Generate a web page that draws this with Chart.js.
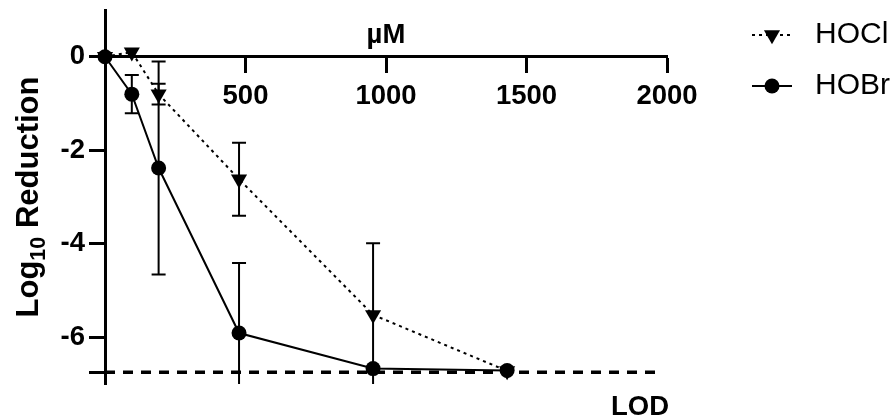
<!DOCTYPE html>
<html><head><meta charset="utf-8">
<script src="https://cdn.jsdelivr.net/npm/chart.js@4"></script>
<style>html,body{margin:0;padding:0;background:#fff;}canvas{display:block}</style>
</head><body>
<canvas id="c" width="896" height="419"></canvas>
<script>
// ---- data ----
const concentrations = [0, 95.4, 190.8, 477, 954, 1431];
const hoclMean = [0, 0.1, -0.8, -2.62, -5.52, -6.72];
const hoclErr  = [0, 0, 0.22, 0.78, 1.53, 0];
const hobrMean = [0, -0.8, -2.38, -5.91, -6.67, -6.71];
const hobrErr  = [0, 0.41, 2.28, 1.5, 0, 0];
const lodValue = -6.75;
const lodExtent = [0, 1960];
const yTickValues = [-6, -4, -2, 0];
const seriesNames = ['HOCl', 'HOBr'];
const xTitle = 'µM';
const yTitleParts = ['Log', '10', ' Reduction'];
const lodLabel = 'LOD';

const FONT = "'Liberation Sans', Arial, Helvetica, sans-serif";
const pts = (ys) => concentrations.map((x, i) => ({x, y: ys[i]}));

const errorBars = {
  id: 'errorBars',
  beforeDatasetsDraw(chart) {
    const {ctx, chartArea, scales: {x, y}} = chart;
    ctx.save();
    ctx.beginPath();
    ctx.rect(chartArea.left - 20, chartArea.top, chartArea.width + 40, chartArea.height);
    ctx.clip();
    ctx.strokeStyle = '#000';
    ctx.lineWidth = 2;
    chart.data.datasets.forEach(ds => {
      if (!ds.errors) return;
      ds.data.forEach((p, i) => {
        const e = ds.errors[i];
        if (!e) return;
        const px = x.getPixelForValue(p.x);
        const t = y.getPixelForValue(p.y + e), b = y.getPixelForValue(p.y - e);
        ctx.beginPath();
        ctx.moveTo(px, t); ctx.lineTo(px, b);
        ctx.moveTo(px - 7, t); ctx.lineTo(px + 7, t);
        ctx.moveTo(px - 7, b); ctx.lineTo(px + 7, b);
        ctx.stroke();
      });
    });
    ctx.restore();
  }
};

const extraText = {
  id: 'extraText',
  afterDraw(chart) {
    const {ctx, chartArea, scales: {y}} = chart;
    ctx.save();
    ctx.fillStyle = '#000';
    ctx.font = 'bold 27.5px ' + FONT;
    ctx.textAlign = 'center';
    ctx.textBaseline = 'alphabetic';
    ctx.fillText(xTitle, (chartArea.left + chartArea.right) / 2, y.getPixelForValue(0) - 14);
    ctx.fillText(lodLabel, 640, 415);
    // y-axis title with subscript
    const mainFont = 'bold 31px ' + FONT, subFont = 'bold 21.5px ' + FONT;
    ctx.font = mainFont; const w1 = ctx.measureText(yTitleParts[0]).width, w3 = ctx.measureText(yTitleParts[2]).width;
    ctx.font = subFont; const w2 = ctx.measureText(yTitleParts[1]).width;
    const total = w1 + w2 + w3;
    ctx.translate(37.5, (chartArea.top + chartArea.bottom) / 2);
    ctx.rotate(-Math.PI / 2);
    ctx.textAlign = 'left';
    let xx = -total / 2;
    ctx.font = mainFont; ctx.fillText(yTitleParts[0], xx, 0); xx += w1;
    ctx.font = subFont; ctx.fillText(yTitleParts[1], xx, 7); xx += w2;
    ctx.font = mainFont; ctx.fillText(yTitleParts[2], xx, 0);
    ctx.restore();
  }
};

const sideLegend = {
  id: 'sideLegend',
  afterDraw(chart) {
    const ctx = chart.ctx;
    let row = 0;
    chart.data.datasets.forEach(ds => {
      if (!seriesNames.includes(ds.label)) return;
      const cy = 35 + row * 51;
      ctx.save();
      ctx.strokeStyle = '#000';
      ctx.fillStyle = '#000';
      ctx.lineWidth = 2;
      ctx.setLineDash(ds.borderDash || []);
      ctx.beginPath(); ctx.moveTo(752, cy); ctx.lineTo(792, cy); ctx.stroke();
      ctx.setLineDash([]);
      Chart.helpers.drawPoint(ctx, {pointStyle: ds.pointStyle, rotation: ds.pointRotation || 0, radius: ds.pointRadius, borderWidth: 0}, 772, cy);
      ctx.font = '30px ' + FONT;
      ctx.textAlign = 'left';
      ctx.textBaseline = 'middle';
      ctx.fillText(ds.label, 815, cy);
      ctx.restore();
      row++;
    });
  }
};

Chart.defaults.color = '#000';
Chart.defaults.font.family = FONT;

new Chart(document.getElementById('c'), {
  type: 'line',
  data: {
    datasets: [
      {
        label: seriesNames[0], data: pts(hoclMean), errors: hoclErr,
        borderColor: '#000', backgroundColor: '#000', borderWidth: 2, borderDash: [3, 4],
        pointStyle: 'triangle', pointRotation: 180, pointRadius: 9.3, pointBorderWidth: 0,
        order: 1, clip: false, tension: 0
      },
      {
        label: seriesNames[1], data: pts(hobrMean), errors: hobrErr,
        borderColor: '#000', backgroundColor: '#000', borderWidth: 2,
        pointStyle: 'circle', pointRadius: 7.5, pointBorderWidth: 0,
        order: 0, clip: false, tension: 0
      },
      {
        label: lodLabel, data: lodExtent.map(x => ({x, y: lodValue})),
        borderColor: '#000', borderWidth: 3.5, borderDash: [10, 8], pointRadius: 0,
        order: 2, clip: false
      }
    ]
  },
  options: {
    responsive: false,
    animation: false,
    devicePixelRatio: 1,
    layout: {padding: {left: 0, right: 229, top: 10, bottom: 35}},
    plugins: {legend: {display: false}, tooltip: {enabled: false}},
    scales: {
      x: {
        type: 'linear', position: {y: 0}, min: 0, max: 2000,
        ticks: {stepSize: 500, padding: 8, maxRotation: 0, autoSkip: false,
          font: {size: 27.5, weight: 'bold'}, color: '#000',
          callback: v => v === 0 ? '' : String(v)},
        grid: {display: true, drawOnChartArea: false, drawTicks: true, tickLength: 15, tickWidth: 3, tickColor: '#000'},
        border: {display: true, width: 3, color: '#000'},
        afterFit(s) { s.height = 0; s.paddingLeft = 0; s.paddingRight = 0; }
      },
      y: {
        type: 'linear', position: 'left', min: -7, max: 1,
        afterBuildTicks(s) { s.ticks = [lodValue, ...yTickValues].map(v => ({value: v})); },
        ticks: {padding: 4, autoSkip: false, font: {size: 27.5, weight: 'bold'}, color: '#000',
          callback: v => v === lodValue ? '' : String(v)},
        grid: {display: true, drawOnChartArea: false, drawTicks: true, tickLength: 16, tickWidth: 3, tickColor: '#000'},
        border: {display: true, width: 3, color: '#000'},
        title: {display: false},
        afterFit(s) { s.width = 105; s.paddingTop = 0; s.paddingBottom = 0; }
      }
    }
  },
  plugins: [errorBars, extraText, sideLegend]
});
</script>
</body></html>
